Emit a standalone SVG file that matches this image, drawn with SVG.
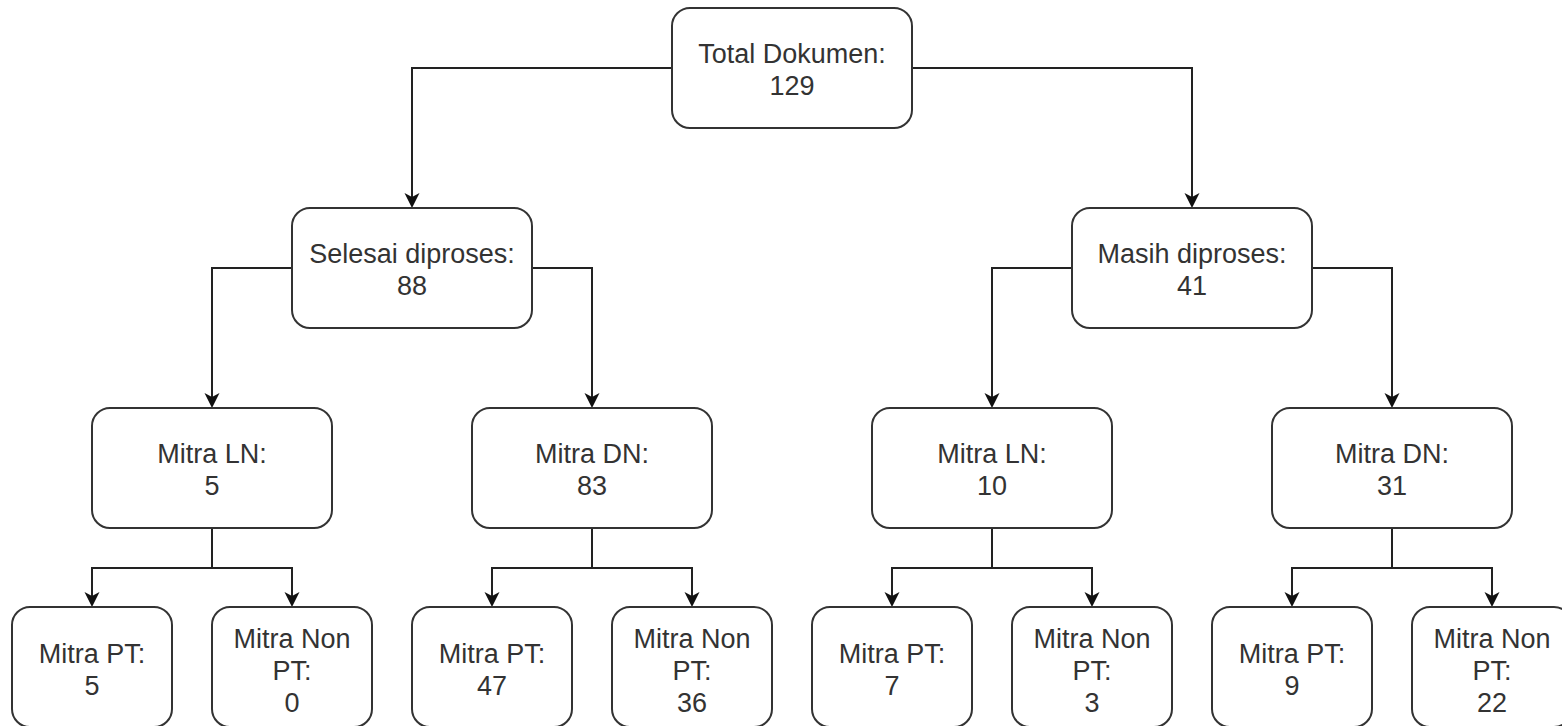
<svg xmlns="http://www.w3.org/2000/svg" width="1562" height="726" viewBox="0 0 1562 726">
<defs>
<style>
.box{fill:#ffffff;stroke:#333333;stroke-width:2}
.lbl{font-family:"Liberation Sans",Arial,Helvetica,sans-serif;font-size:27px;fill:#333333;text-anchor:middle}
.edge{fill:none;stroke:#222222;stroke-width:2}
</style>
<marker id="arr" viewBox="-16 -8 16 16" refX="-4" refY="0" markerWidth="16" markerHeight="16" markerUnits="userSpaceOnUse" orient="auto">
<path d="M-15,-7.5 L0,0 L-15,7.5 L-11,0 Z" fill="#111111"/>
</marker>
</defs>
<rect width="1562" height="726" fill="#ffffff"/>
<g id="connectors">
<path class="edge" d="M672,68 H412 V204" marker-end="url(#arr)"/>
<path class="edge" d="M912,68 H1192 V204" marker-end="url(#arr)"/>
<path class="edge" d="M292,268 H212 V404" marker-end="url(#arr)"/>
<path class="edge" d="M532,268 H592 V404" marker-end="url(#arr)"/>
<path class="edge" d="M1072,268 H992 V404" marker-end="url(#arr)"/>
<path class="edge" d="M1312,268 H1392 V404" marker-end="url(#arr)"/>
<path class="edge" d="M212,528 V568 H92 V603" marker-end="url(#arr)"/>
<path class="edge" d="M212,568 H292 V603" marker-end="url(#arr)"/>
<path class="edge" d="M592,528 V568 H492 V603" marker-end="url(#arr)"/>
<path class="edge" d="M592,568 H692 V603" marker-end="url(#arr)"/>
<path class="edge" d="M992,528 V568 H892 V603" marker-end="url(#arr)"/>
<path class="edge" d="M992,568 H1092 V603" marker-end="url(#arr)"/>
<path class="edge" d="M1392,528 V568 H1292 V603" marker-end="url(#arr)"/>
<path class="edge" d="M1392,568 H1492 V603" marker-end="url(#arr)"/>
</g>
<g id="total">
<rect class="box" x="672" y="8" width="240" height="120" rx="18"/>
<text class="lbl" x="792" y="63">Total Dokumen:</text>
<text class="lbl" x="792" y="95">129</text>
</g>
<g id="selesai">
<rect class="box" x="292" y="208" width="240" height="120" rx="18"/>
<text class="lbl" x="412" y="263">Selesai diproses:</text>
<text class="lbl" x="412" y="295">88</text>
</g>
<g id="masih">
<rect class="box" x="1072" y="208" width="240" height="120" rx="18"/>
<text class="lbl" x="1192" y="263">Masih diproses:</text>
<text class="lbl" x="1192" y="295">41</text>
</g>
<g id="s-ln">
<rect class="box" x="92" y="408" width="240" height="120" rx="18"/>
<text class="lbl" x="212" y="463">Mitra LN:</text>
<text class="lbl" x="212" y="495">5</text>
</g>
<g id="s-dn">
<rect class="box" x="472" y="408" width="240" height="120" rx="18"/>
<text class="lbl" x="592" y="463">Mitra DN:</text>
<text class="lbl" x="592" y="495">83</text>
</g>
<g id="m-ln">
<rect class="box" x="872" y="408" width="240" height="120" rx="18"/>
<text class="lbl" x="992" y="463">Mitra LN:</text>
<text class="lbl" x="992" y="495">10</text>
</g>
<g id="m-dn">
<rect class="box" x="1272" y="408" width="240" height="120" rx="18"/>
<text class="lbl" x="1392" y="463">Mitra DN:</text>
<text class="lbl" x="1392" y="495">31</text>
</g>
<g id="s-ln-pt">
<rect class="box" x="12" y="607" width="160" height="120" rx="18"/>
<text class="lbl" x="92" y="663">Mitra PT:</text>
<text class="lbl" x="92" y="695">5</text>
</g>
<g id="s-ln-npt">
<rect class="box" x="212" y="607" width="160" height="120" rx="18"/>
<text class="lbl" x="292" y="648">Mitra Non</text>
<text class="lbl" x="292" y="680">PT:</text>
<text class="lbl" x="292" y="712">0</text>
</g>
<g id="s-dn-pt">
<rect class="box" x="412" y="607" width="160" height="120" rx="18"/>
<text class="lbl" x="492" y="663">Mitra PT:</text>
<text class="lbl" x="492" y="695">47</text>
</g>
<g id="s-dn-npt">
<rect class="box" x="612" y="607" width="160" height="120" rx="18"/>
<text class="lbl" x="692" y="648">Mitra Non</text>
<text class="lbl" x="692" y="680">PT:</text>
<text class="lbl" x="692" y="712">36</text>
</g>
<g id="m-ln-pt">
<rect class="box" x="812" y="607" width="160" height="120" rx="18"/>
<text class="lbl" x="892" y="663">Mitra PT:</text>
<text class="lbl" x="892" y="695">7</text>
</g>
<g id="m-ln-npt">
<rect class="box" x="1012" y="607" width="160" height="120" rx="18"/>
<text class="lbl" x="1092" y="648">Mitra Non</text>
<text class="lbl" x="1092" y="680">PT:</text>
<text class="lbl" x="1092" y="712">3</text>
</g>
<g id="m-dn-pt">
<rect class="box" x="1212" y="607" width="160" height="120" rx="18"/>
<text class="lbl" x="1292" y="663">Mitra PT:</text>
<text class="lbl" x="1292" y="695">9</text>
</g>
<g id="m-dn-npt">
<rect class="box" x="1412" y="607" width="160" height="120" rx="18"/>
<text class="lbl" x="1492" y="648">Mitra Non</text>
<text class="lbl" x="1492" y="680">PT:</text>
<text class="lbl" x="1492" y="712">22</text>
</g>
</svg>
